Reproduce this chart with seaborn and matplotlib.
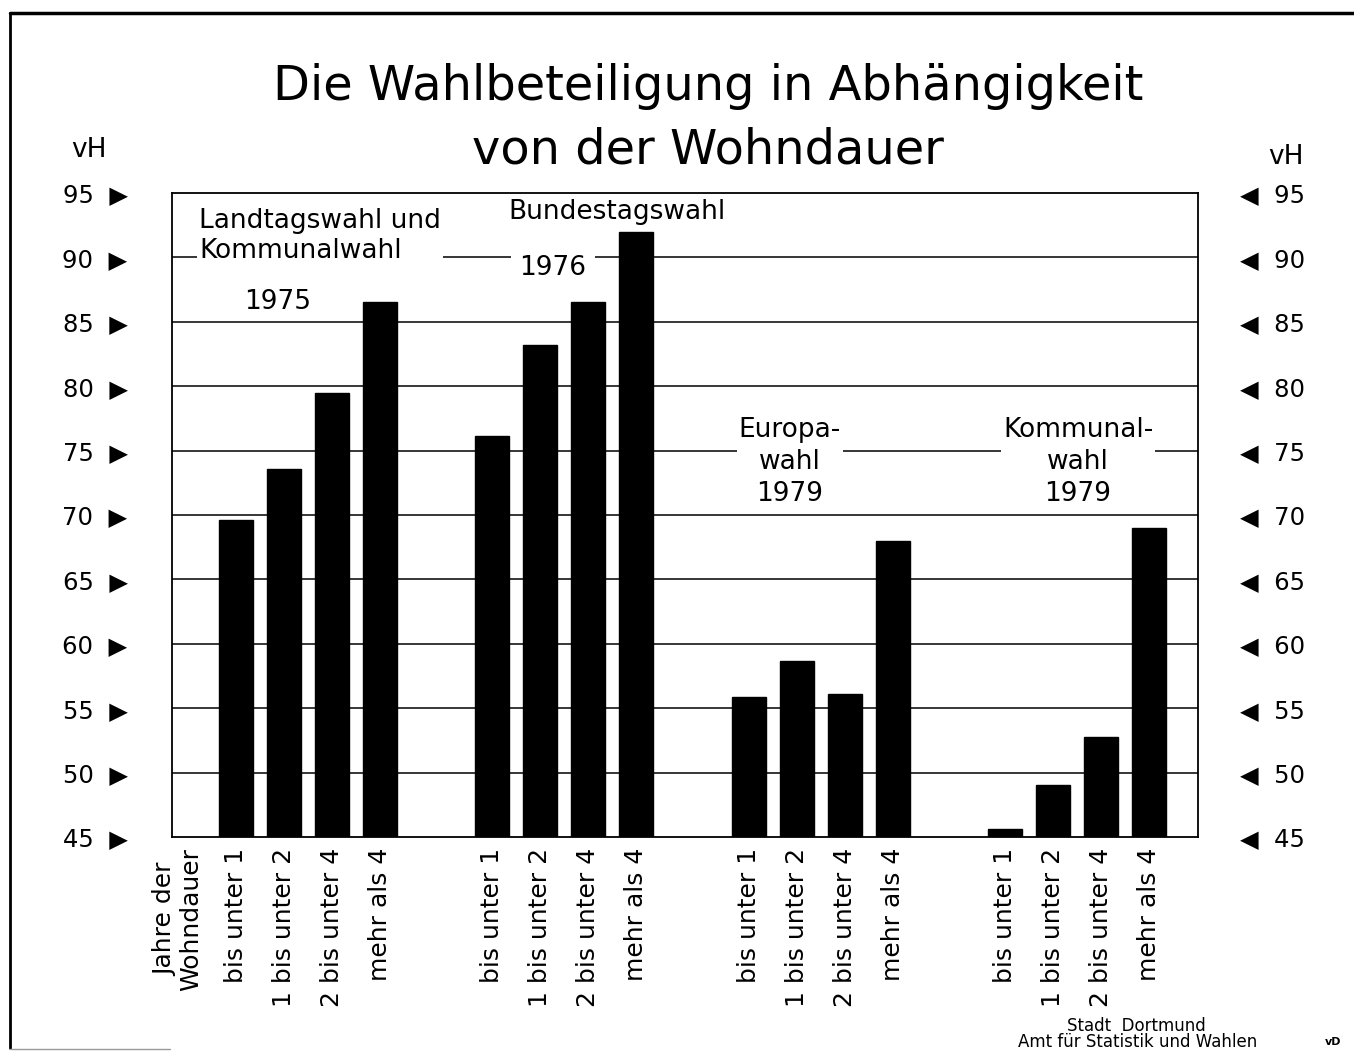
import numpy as np
import pandas as pd
import matplotlib
matplotlib.use("Agg")
import matplotlib.pyplot as plt
import seaborn as sns
from matplotlib.lines import Line2D

# Data (Wahlbeteiligung in vH)
elections = ["Landtagswahl 1975", "Bundestagswahl 1976", "Europawahl 1979", "Kommunalwahl 1979"]
durations = ["bis unter 1", "1 bis unter 2", "2 bis unter 4", "mehr als 4"]
landtag_1975 = [69.6, 73.6, 79.5, 86.5]
bundestag_1976 = [76.1, 83.2, 86.5, 92.0]
europa_1979 = [55.9, 58.7, 56.1, 68.0]
kommunal_1979 = [45.6, 49.0, 52.8, 69.0]
y_ticks = [45, 50, 55, 60, 65, 70, 75, 80, 85, 90, 95]

W, H = 1354, 1052
GROUP_STEP = 5.34

series = [landtag_1975, bundestag_1976, europa_1979, kommunal_1979]
rows = []
for g, vals in enumerate(series):
    for i, v in enumerate(vals):
        rows.append({"election": elections[g], "duration": durations[i],
                     "pos": g * GROUP_STEP + i, "vH": v})
df = pd.DataFrame(rows)

sns.set_theme(style="white")
plt.rcParams["font.family"] = ["DejaVu Sans"]
plt.rcParams["text.color"] = "black"
plt.rcParams["xtick.color"] = "black"
plt.rcParams["ytick.color"] = "black"

fig = plt.figure(figsize=(W / 100, H / 100), dpi=100)
fig.patch.set_facecolor("white")


def fx(px):
    return px / W


def fy(py):
    return 1 - py / H


ax = fig.add_axes([fx(172), fy(837), fx(1198) - fx(172), fy(193) - fy(837)])
ax.set_facecolor("white")

sns.barplot(data=df, x="pos", y="vH", native_scale=True, width=0.71,
            color="black", saturation=1, edgecolor="black", ax=ax, zorder=3)

ax.set_xlim(-1.33, 20.04)
ax.set_ylim(45, 95)
ax.set_yticks(y_ticks)
ax.set_yticklabels([f"{v}  \u25B6" for v in y_ticks], fontsize=17.5)
for y in y_ticks[1:-1]:
    ax.axhline(y, color="black", lw=1.1, zorder=1)

tick_pos = [-1.2] + list(df["pos"])
tick_lab = ["Jahre der\nWohndauer"] + list(df["duration"])
ax.set_xticks(tick_pos)
ax.set_xticklabels(tick_lab, rotation=90, fontsize=18, va="top", ha="center",
                   linespacing=1.15)
ax.tick_params(axis="x", length=0, pad=8)
ax.tick_params(axis="y", length=0, pad=32)
ax.set_xlabel("")
ax.set_ylabel("")
for s in ax.spines.values():
    s.set_color("black")
    s.set_linewidth(1.3)

ax2 = ax.twinx()
ax2.set_ylim(45, 95)
ax2.set_yticks(y_ticks)
ax2.set_yticklabels([f"\u25C0  {v}" for v in y_ticks], fontsize=17.5)
ax2.tick_params(axis="y", length=0, pad=30)
ax2.grid(False)
for s in ax2.spines.values():
    s.set_visible(False)

# Title and unit labels
fig.text(fx(708), fy(63), "Die Wahlbeteiligung in Abhängigkeit\nvon der Wohndauer",
         ha="center", va="top", fontsize=34.5, linespacing=1.45)
fig.text(fx(89), fy(150), "vH", ha="center", va="center", fontsize=19)
fig.text(fx(1286), fy(157), "vH", ha="center", va="center", fontsize=19)

# Election annotations with white background hiding the grid
box = dict(facecolor="white", edgecolor="none", pad=1.5)
fig.text(fx(199), fy(236), "Landtagswahl und\nKommunalwahl", ha="left", va="center",
         fontsize=19, linespacing=1.25, bbox=box)
fig.text(fx(278), fy(302), "1975", ha="center", va="center", fontsize=19, bbox=box)
fig.text(fx(617), fy(212), "Bundestagswahl", ha="center", va="center", fontsize=19, bbox=box)
fig.text(fx(553), fy(268), "1976", ha="center", va="center", fontsize=19,
         bbox=dict(facecolor="white", edgecolor="none", pad=6))
fig.text(fx(790), fy(462), "Europa-\nwahl\n1979", ha="center", va="center", fontsize=19,
         linespacing=1.3, bbox=box)
fig.text(fx(1078), fy(462), "Kommunal-\nwahl\n1979", ha="center", va="center", fontsize=19,
         linespacing=1.3, bbox=box)

# Footer
fig.text(fx(1136), fy(1026), "Stadt  Dortmund", ha="center", va="center", fontsize=12)
fig.text(fx(1138), fy(1042), "Amt für Statistik und Wahlen", ha="center", va="center", fontsize=12)
fig.text(fx(1333), fy(1042), "vD", ha="center", va="center", fontsize=8, fontweight="bold")

# Outer frame of the sheet
fig.add_artist(Line2D([fx(10), fx(1354)], [fy(13), fy(13)], color="black", lw=2.5))
fig.add_artist(Line2D([fx(10), fx(10)], [fy(13), fy(1048)], color="black", lw=2))
fig.add_artist(Line2D([fx(10), fx(170)], [fy(1049), fy(1049)], color="0.6", lw=1))

fig.savefig("out.png", dpi=100, facecolor="white")
